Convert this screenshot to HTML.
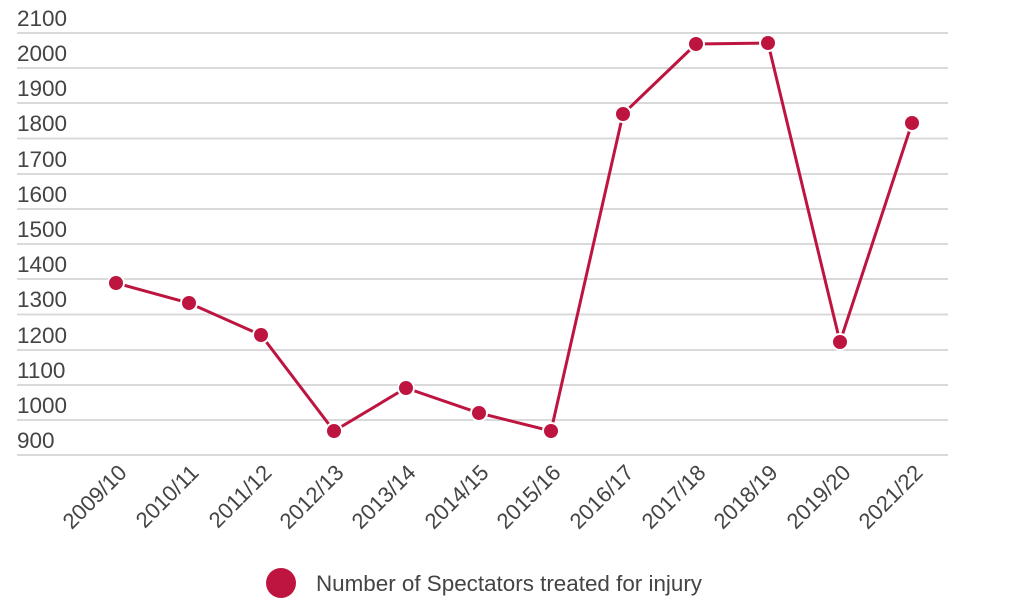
<!DOCTYPE html>
<html><head><meta charset="utf-8"><style>
body{margin:0;background:#fff}
svg text{font-family:"Liberation Sans",sans-serif;fill:#444}
</style></head><body>
<svg width="1010" height="610" xmlns="http://www.w3.org/2000/svg">
<g stroke="#d9d9d9" stroke-width="2">
<line x1="17" x2="948" y1="33" y2="33"/><line x1="17" x2="948" y1="68" y2="68"/>
<line x1="17" x2="948" y1="103" y2="103"/><line x1="17" x2="948" y1="138.5" y2="138.5"/>
<line x1="17" x2="948" y1="174" y2="174"/><line x1="17" x2="948" y1="209" y2="209"/>
<line x1="17" x2="948" y1="244" y2="244"/><line x1="17" x2="948" y1="279" y2="279"/>
<line x1="17" x2="948" y1="314.5" y2="314.5"/><line x1="17" x2="948" y1="350" y2="350"/>
<line x1="17" x2="948" y1="385" y2="385"/><line x1="17" x2="948" y1="420" y2="420"/>
<line x1="17" x2="948" y1="455" y2="455"/>
</g>
<g font-size="22.5">
<text x="17" y="26">2100</text><text x="17" y="61">2000</text><text x="17" y="96">1900</text>
<text x="17" y="131">1800</text><text x="17" y="167">1700</text><text x="17" y="202">1600</text>
<text x="17" y="237">1500</text><text x="17" y="272">1400</text><text x="17" y="307">1300</text>
<text x="17" y="343">1200</text><text x="17" y="378">1100</text><text x="17" y="413">1000</text>
<text x="17" y="448">900</text>
</g>
<g font-size="22" text-anchor="end">
<text transform="translate(128,474) rotate(-45)">2009/10</text>
<text transform="translate(200,474) rotate(-45)">2010/11</text>
<text transform="translate(273,474) rotate(-45)">2011/12</text>
<text transform="translate(345,474) rotate(-45)">2012/13</text>
<text transform="translate(417,474) rotate(-45)">2013/14</text>
<text transform="translate(490,474) rotate(-45)">2014/15</text>
<text transform="translate(562,474) rotate(-45)">2015/16</text>
<text transform="translate(635,474) rotate(-45)">2016/17</text>
<text transform="translate(707,474) rotate(-45)">2017/18</text>
<text transform="translate(779,474) rotate(-45)">2018/19</text>
<text transform="translate(852,474) rotate(-45)">2019/20</text>
<text transform="translate(924,474) rotate(-45)">2021/22</text>
</g>
<polyline fill="none" stroke="#be1540" stroke-width="3" points="116,283 189,303 261,335 334,431 406,388 479,413 551,431 623,114 696,44 768,43 840,342 912,123"/>
<g fill="#be1540" stroke="#fff" stroke-width="2">
<circle cx="116" cy="283" r="8"/><circle cx="189" cy="303" r="8"/><circle cx="261" cy="335" r="8"/>
<circle cx="334" cy="431" r="8"/><circle cx="406" cy="388" r="8"/><circle cx="479" cy="413" r="8"/>
<circle cx="551" cy="431" r="8"/><circle cx="623" cy="114" r="8"/><circle cx="696" cy="44" r="8"/>
<circle cx="768" cy="43" r="8"/><circle cx="840" cy="342" r="8"/><circle cx="912" cy="123" r="8"/>
</g>
<circle cx="281" cy="583" r="15" fill="#be1540"/>
<text x="316" y="591" font-size="22" textLength="386" lengthAdjust="spacingAndGlyphs">Number of Spectators treated for injury</text>
</svg>
</body></html>
